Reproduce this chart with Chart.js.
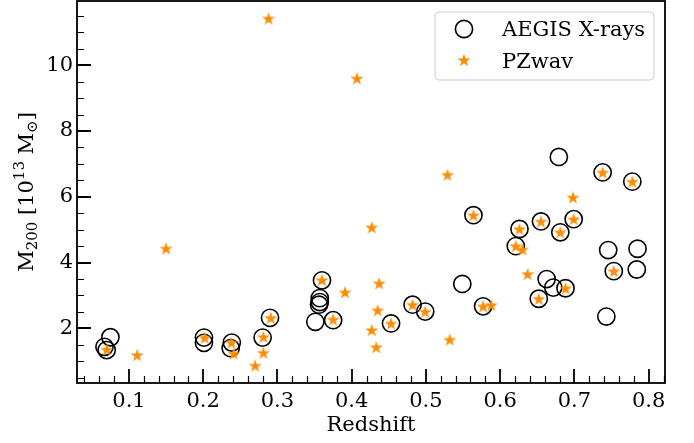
<!DOCTYPE html>
<html>
<head>
<meta charset="utf-8">
<script src="https://cdn.jsdelivr.net/npm/chart.js@4.4.1/dist/chart.umd.min.js"></script>
<style>
  html, body { margin: 0; padding: 0; background: #fff; }
</style>
</head>
<body>
<canvas id="chart" width="694" height="443"></canvas>
<script>
// valores
const aegisZ = [0.067, 0.070, 0.075, 0.201, 0.201, 0.237, 0.2385, 0.280, 0.290, 0.351, 0.357, 0.357, 0.356, 0.360, 0.375,
    0.453, 0.482, 0.499, 0.549, 0.564, 0.577, 0.621, 0.626, 0.652, 0.655, 0.6626, 0.6715, 0.679, 0.681, 0.688,
    0.699, 0.738, 0.743, 0.7455, 0.753, 0.778, 0.784, 0.785];
const aegisM = [1.44, 1.34, 1.73, 1.72, 1.56, 1.40, 1.57, 1.72, 2.32, 2.20, 2.92, 2.80, 2.72, 3.46, 2.25,
    2.15, 2.72, 2.51, 3.35, 5.44, 2.67, 4.50, 5.02, 2.90, 5.25, 3.50, 3.24, 7.21, 4.92, 3.22,
    5.32, 6.74, 2.36, 4.38, 3.74, 6.46, 3.79, 4.42];

const pzwavZ = [0.070, 0.111, 0.150, 0.202, 0.238, 0.241, 0.270, 0.281, 0.281, 0.288, 0.291, 0.360, 0.375, 0.391,
    0.407, 0.427, 0.427, 0.433, 0.435, 0.437, 0.453, 0.482, 0.499, 0.529, 0.532, 0.564, 0.577, 0.588,
    0.621, 0.626, 0.630, 0.637, 0.652, 0.655, 0.681, 0.688, 0.698, 0.699, 0.738, 0.753, 0.778];
const pzwavM = [1.36, 1.19, 4.43, 1.72, 1.57, 1.24, 0.87, 1.26, 1.74, 11.42, 2.32, 3.47, 2.27, 3.10,
    9.60, 5.07, 1.95, 1.43, 2.55, 3.37, 2.15, 2.72, 2.51, 6.67, 1.66, 5.44, 2.67, 2.71,
    4.50, 5.02, 4.40, 3.65, 2.90, 5.25, 4.92, 3.22, 5.98, 5.32, 6.74, 3.74, 6.46];

const xTicks = [0.1, 0.2, 0.3, 0.4, 0.5, 0.6, 0.7, 0.8];
const yTicks = [2, 4, 6, 8, 10];
const seriesNames = ["AEGIS X-rays", "PZwav"];

const FONT = '"DejaVu Serif", serif';
const ORANGE = "#ff8c00";

// estrella rellena de 5 puntas, como el marcador '*' de matplotlib
function makeStar(r, color) {
    const c = document.createElement("canvas");
    const s = Math.ceil(r * 2 + 2);
    c.width = s; c.height = s;
    const g = c.getContext("2d");
    g.fillStyle = color;
    g.beginPath();
    for (let i = 0; i < 10; i++) {
        const rad = i % 2 === 0 ? r : r * 0.382;
        const a = -Math.PI / 2 + i * Math.PI / 5;
        const px = s / 2 + rad * Math.cos(a), py = s / 2 + rad * Math.sin(a) + r * 0.1;
        i === 0 ? g.moveTo(px, py) : g.lineTo(px, py);
    }
    g.closePath();
    g.fill();
    return c;
}
const star = makeStar(6.9, ORANGE);

const extras = {
    id: "extras",
    afterDraw(chart) {
        const { ctx, chartArea: a, scales: { x, y } } = chart;
        ctx.save();
        ctx.strokeStyle = "#000";

        // ticks menores hacia dentro
        ctx.lineWidth = 1.2;
        ctx.beginPath();
        for (let v = 0.04; v < 0.822; v += 0.02) {
            if (Math.abs(v * 10 - Math.round(v * 10)) < 1e-6) continue;
            const px = Math.round(x.getPixelForValue(v)) + 0.5;
            ctx.moveTo(px, a.bottom); ctx.lineTo(px, a.bottom - 7);
        }
        for (let v = 0.5; v < 11.95; v += 0.5) {
            if (v % 2 === 0) continue;
            const py = Math.round(y.getPixelForValue(v)) + 0.5;
            ctx.moveTo(a.left, py); ctx.lineTo(a.left + 7, py);
        }
        ctx.stroke();

        // ticks mayores
        ctx.lineWidth = 1.8;
        ctx.beginPath();
        xTicks.forEach(v => {
            const px = Math.round(x.getPixelForValue(v));
            ctx.moveTo(px, a.bottom); ctx.lineTo(px, a.bottom - 14);
        });
        yTicks.forEach(v => {
            const py = Math.round(y.getPixelForValue(v));
            ctx.moveTo(a.left, py); ctx.lineTo(a.left + 14, py);
        });
        ctx.stroke();

        // marco
        ctx.lineWidth = 1.8;
        ctx.strokeRect(a.left, a.top, a.right - a.left, a.bottom - a.top);

        // leyenda
        const lx = 435, ly = 12, lw = 219, lh = 68;
        ctx.beginPath();
        ctx.roundRect(lx, ly, lw, lh, 4);
        ctx.fillStyle = "rgba(255,255,255,0.8)";
        ctx.fill();
        ctx.strokeStyle = "#cccccc";
        ctx.lineWidth = 1;
        ctx.stroke();

        ctx.strokeStyle = "#000";
        ctx.lineWidth = 1.6;
        ctx.beginPath();
        ctx.arc(464, 29, 8.6, 0, Math.PI * 2);
        ctx.stroke();
        ctx.drawImage(star, 464 - star.width / 2, 60 - star.height / 2);

        ctx.fillStyle = "#000";
        ctx.font = "21px " + FONT;
        ctx.textBaseline = "alphabetic";
        ctx.textAlign = "left";
        ctx.fillText(seriesNames[0], 502, 36);
        ctx.fillText(seriesNames[1], 502, 67.5);

        // etiqueta del eje y con subíndices
        const big = "21px " + FONT, small = "15px " + FONT;
        const parts = [
            { t: "M", f: big, dy: 0 },
            { t: "200", f: small, dy: 4 },
            { t: " [10", f: big, dy: 0 },
            { t: "13", f: small, dy: -9 },
            { t: " M", f: big, dy: 0 },
            { t: "\u2299", f: small, dy: 4 },
            { t: "]", f: big, dy: 0 }
        ];
        let total = 0;
        parts.forEach(p => { ctx.font = p.f; p.w = ctx.measureText(p.t).width; total += p.w; });
        ctx.translate(33, (a.top + a.bottom) / 2);
        ctx.rotate(-Math.PI / 2);
        let cx = -total / 2;
        parts.forEach(p => {
            ctx.font = p.f;
            ctx.fillText(p.t, cx, p.dy);
            cx += p.w;
        });
        ctx.restore();
    }
};

new Chart(document.getElementById("chart"), {
    type: "scatter",
    data: {
        datasets: [
            {
                label: seriesNames[0],
                data: aegisZ.map((z, i) => ({ x: z, y: aegisM[i] })),
                pointStyle: "circle",
                pointRadius: 8.6,
                pointBorderWidth: 1.6,
                borderColor: "#000",
                backgroundColor: "rgba(0,0,0,0)",
                order: 2
            },
            {
                label: seriesNames[1],
                data: pzwavZ.map((z, i) => ({ x: z, y: pzwavM[i] })),
                pointStyle: star,
                pointRadius: 6.9,
                order: 1
            }
        ]
    },
    options: {
        responsive: false,
        animation: false,
        layout: { autoPadding: false, padding: { top: 1, right: 29, left: 0, bottom: 0 } },
        plugins: {
            legend: { display: false },
            tooltip: { enabled: false }
        },
        scales: {
            x: {
                type: "linear",
                min: 0.03,
                max: 0.822,
                grid: { display: false, drawTicks: false },
                border: { display: false },
                afterBuildTicks: s => { s.ticks = xTicks.map(v => ({ value: v })); },
                afterFit: s => { s.height = 60; s.paddingLeft = 0; s.paddingRight = 0; },
                ticks: {
                    color: "#000",
                    padding: 6,
                    maxRotation: 0,
                    font: { family: FONT, size: 21 },
                    callback: v => v.toFixed(1)
                },
                title: {
                    display: true,
                    text: "Redshift",
                    color: "#000",
                    font: { family: FONT, size: 21 },
                    padding: { top: 0, bottom: 5 }
                }
            },
            y: {
                type: "linear",
                min: 0.34,
                max: 11.95,
                grid: { display: false, drawTicks: false },
                border: { display: false },
                afterBuildTicks: s => { s.ticks = yTicks.map(v => ({ value: v })); },
                afterFit: s => { s.width = 77; s.paddingTop = 0; s.paddingBottom = 0; },
                ticks: {
                    color: "#000",
                    padding: 4,
                    font: { family: FONT, size: 21 },
                    callback: v => String(v)
                }
            }
        }
    },
    plugins: [extras]
});
</script>
</body>
</html>
